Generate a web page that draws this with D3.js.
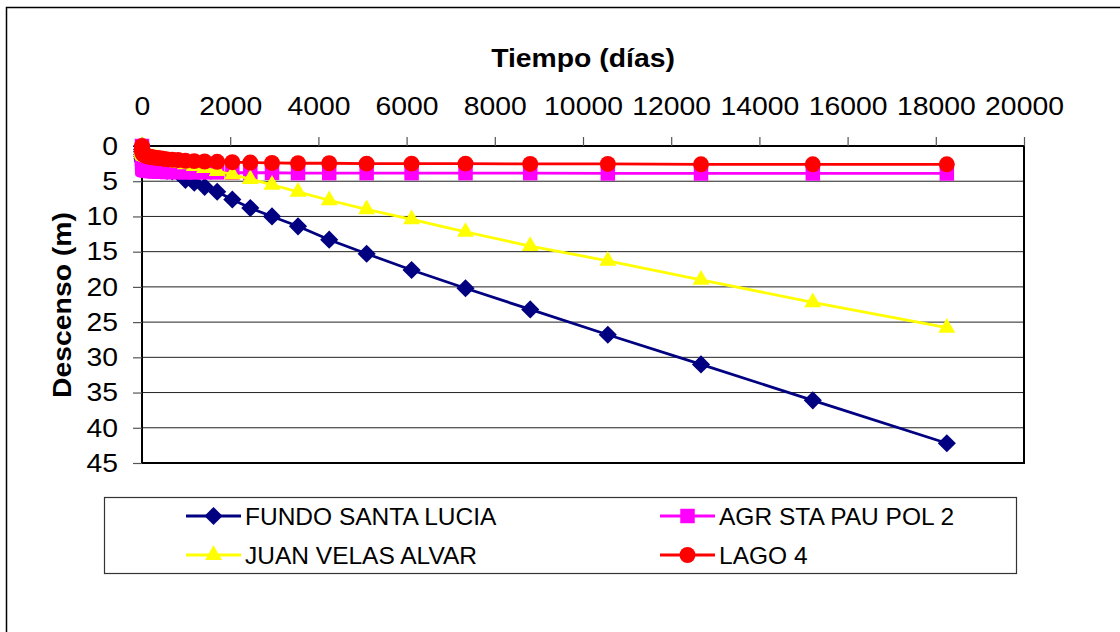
<!DOCTYPE html>
<html>
<head>
<meta charset="utf-8">
<script src="https://cdn.jsdelivr.net/npm/d3@7"></script>
<style>
  html, body { margin: 0; padding: 0; background: #fff; }
  svg { display: block; font-family: Arial, "Liberation Sans", sans-serif; }
</style>
</head>
<body>
<svg id="chart" width="1120" height="632"></svg>
<script>
// Time since pumping started (days)
const tiempo = [0, 1, 2, 4, 7, 12, 18, 26, 36, 48, 62, 80, 100, 125, 155, 190, 232, 280, 337, 404,
  483, 575, 685, 820, 985, 1185, 1420, 1705, 2048, 2456, 2948, 3538, 4245, 5094, 6113, 7336,
  8803, 10563, 12676, 15211, 18250];

// Drawdown per well (m)
const fundoSantaLucia = [0, 0.5, 0.8, 1.2, 1.5, 1.8, 2.0, 2.2, 2.35, 2.5, 2.6, 2.7, 2.8, 2.9, 3.0, 3.05,
  3.1, 3.15, 3.2, 3.3, 3.4, 3.5, 3.6, 3.8, 4.8, 5.2, 5.8, 6.5, 7.6, 8.8, 10.0, 11.4, 13.3, 15.3,
  17.6, 20.2, 23.2, 26.8, 31.0, 36.1, 42.2];
const agrStaPauPol2 = [0, 1.8, 2.4, 2.8, 3.0, 3.1, 3.2, 3.25, 3.3, 3.35, 3.4, 3.4, 3.45, 3.5, 3.5, 3.55,
  3.55, 3.6, 3.6, 3.65, 3.65, 3.7, 3.7, 3.7, 3.75, 3.75, 3.75, 3.75, 3.8, 3.8, 3.8, 3.85, 3.85, 3.85,
  3.85, 3.85, 3.85, 3.9, 3.9, 3.9, 3.9];
const juanVelasAlvar = [0, 0.3, 0.5, 0.7, 0.85, 1.0, 1.1, 1.2, 1.3, 1.35, 1.4, 1.45, 1.5, 1.55, 1.6, 1.65,
  1.7, 1.75, 1.8, 1.9, 2.0, 2.1, 2.25, 2.4, 2.6, 2.85, 3.15, 3.55, 4.05, 4.7, 5.5, 6.5, 7.7, 9.0,
  10.4, 12.2, 14.2, 16.3, 19.0, 22.2, 25.8];
const lago4 = [0, 0.3, 0.5, 0.65, 0.8, 0.95, 1.05, 1.15, 1.2, 1.25, 1.3, 1.35, 1.4, 1.45, 1.5, 1.55,
  1.6, 1.65, 1.7, 1.75, 1.8, 1.9, 1.95, 2.0, 2.1, 2.15, 2.2, 2.25, 2.3, 2.35, 2.4, 2.45, 2.45, 2.5,
  2.5, 2.5, 2.55, 2.55, 2.6, 2.6, 2.6];

const seriesNames = ["FUNDO SANTA LUCIA", "AGR STA PAU POL 2", "JUAN VELAS ALVAR", "LAGO 4"];
const xTicks = [0, 2000, 4000, 6000, 8000, 10000, 12000, 14000, 16000, 18000, 20000];
const yTicks = [0, 5, 10, 15, 20, 25, 30, 35, 40, 45];

const series = [
  { name: seriesNames[0], values: fundoSantaLucia, color: "#000080", shape: "diamond" },
  { name: seriesNames[1], values: agrStaPauPol2,   color: "#FF00FF", shape: "square" },
  { name: seriesNames[2], values: juanVelasAlvar,  color: "#FFFF00", shape: "triangle" },
  { name: seriesNames[3], values: lago4,           color: "#FF0000", shape: "circle" }
];

const svg = d3.select("#chart");
const plot = { left: 142, top: 146, right: 1024, bottom: 463 };
const wide = 1.09; // horizontal stretch of axis lettering

// Outer chart frame
svg.append("rect")
  .attr("x", 6.5).attr("y", 7.5)
  .attr("width", 1130).attr("height", 640)
  .attr("fill", "#fff").attr("stroke", "#000").attr("stroke-width", 1.5);

const x = d3.scaleLinear().domain([0, 20000]).range([plot.left, plot.right]);
const y = d3.scaleLinear().domain([0, 45]).range([plot.top, plot.bottom]);

// Horizontal gridlines
svg.append("g")
  .selectAll("line")
  .data(yTicks.slice(1, -1))
  .join("line")
  .attr("x1", plot.left).attr("x2", plot.right)
  .attr("y1", d => y(d)).attr("y2", d => y(d))
  .attr("stroke", "#222").attr("stroke-width", 1);

// Plot border
svg.append("rect")
  .attr("x", plot.left).attr("y", plot.top)
  .attr("width", plot.right - plot.left).attr("height", plot.bottom - plot.top)
  .attr("fill", "none").attr("stroke", "#000").attr("stroke-width", 2);

// Top axis (time)
const xAxis = svg.append("g")
  .attr("transform", `translate(0,${plot.top})`)
  .call(d3.axisTop(x).tickValues(xTicks).tickSize(9).tickPadding(22).tickFormat(d3.format("d")));
xAxis.select(".domain").remove();
xAxis.selectAll(".tick line").attr("stroke", "#555").attr("stroke-width", 1.2);
xAxis.selectAll(".tick text")
  .attr("font-size", 26).attr("fill", "#000")
  .attr("font-family", "Arial, 'Liberation Sans', sans-serif")
  .attr("transform", `scale(${wide},1)`);

// Left axis (drawdown)
const yAxis = svg.append("g")
  .attr("transform", `translate(${plot.left},0)`)
  .call(d3.axisLeft(y).tickValues(yTicks).tickSize(9).tickPadding(15));
yAxis.select(".domain").remove();
yAxis.selectAll(".tick line").attr("stroke", "#555").attr("stroke-width", 1.2);
yAxis.selectAll(".tick text")
  .attr("font-size", 26).attr("fill", "#000")
  .attr("font-family", "Arial, 'Liberation Sans', sans-serif")
  .attr("x", 0)
  .attr("transform", `translate(-24,0) scale(${wide},1)`);

// Axis titles
svg.append("text")
  .attr("transform", `translate(583,67) scale(${wide},1)`)
  .attr("text-anchor", "middle")
  .attr("font-size", 26).attr("font-weight", "bold")
  .text("Tiempo (días)");

svg.append("text")
  .attr("transform", `translate(71,305) rotate(-90) scale(${wide},1)`)
  .attr("text-anchor", "middle")
  .attr("font-size", 26).attr("font-weight", "bold")
  .text("Descenso (m)");

// Marker symbols
const symbolFor = {
  diamond: d3.symbol().type(d3.symbolDiamond2).size(210),
  square: d3.symbol().type(d3.symbolSquare).size(210),
  triangle: d3.symbol().type(d3.symbolTriangle).size(125),
  circle: d3.symbol().type(d3.symbolCircle).size(200)
};

const line = d3.line()
  .x((d, i) => x(tiempo[i]))
  .y(d => y(d));

const layer = svg.append("g");
series.forEach(s => {
  const g = layer.append("g");
  g.append("path")
    .attr("d", line(s.values))
    .attr("fill", "none")
    .attr("stroke", s.color)
    .attr("stroke-width", 2.8);
  g.selectAll("path.mk")
    .data(s.values)
    .join("path")
    .attr("class", "mk")
    .attr("transform", (d, i) => `translate(${x(tiempo[i])},${y(d)})`)
    .attr("d", symbolFor[s.shape]())
    .attr("fill", s.color);
});

// Legend
const legend = svg.append("g");
legend.append("rect")
  .attr("x", 104.5).attr("y", 497.5)
  .attr("width", 912).attr("height", 76)
  .attr("fill", "#fff").attr("stroke", "#333").attr("stroke-width", 1.2);

const legendPos = [
  { lx: 186, ly: 516 }, { lx: 660, ly: 516 },
  { lx: 186, ly: 555 }, { lx: 660, ly: 555 }
];
series.forEach((s, i) => {
  const p = legendPos[i];
  const item = legend.append("g").attr("transform", `translate(${p.lx},${p.ly})`);
  item.append("line")
    .attr("x1", 0).attr("x2", 55).attr("y1", 0).attr("y2", 0)
    .attr("stroke", s.color).attr("stroke-width", 2.8);
  item.append("path")
    .attr("transform", "translate(27.5,0)")
    .attr("d", symbolFor[s.shape]())
    .attr("fill", s.color);
  item.append("text")
    .attr("x", 59).attr("y", 9)
    .attr("font-size", 24.5)
    .attr("fill", "#000")
    .text(s.name);
});
</script>
</body>
</html>
